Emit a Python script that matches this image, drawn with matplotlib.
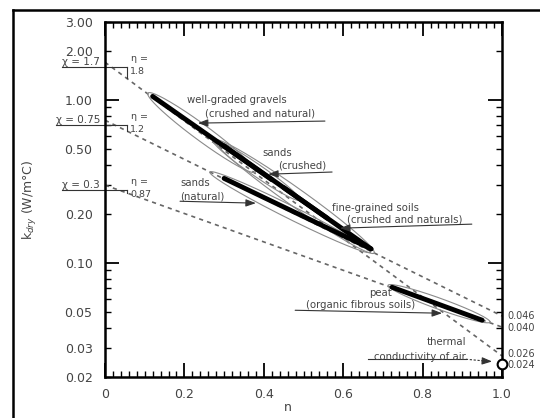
import numpy as np
import matplotlib.pyplot as plt
from matplotlib.lines import Line2D
from matplotlib.ticker import FixedLocator, FuncFormatter, MultipleLocator

plt.rcParams['font.family'] = ['DejaVu Sans']

# Cote & Konrad style lines: k_dry = chi * 10^(-eta * n)
chi_vals = [1.7, 0.75, 0.3]
eta_vals = [1.8, 1.2, 0.87]
k_air = 0.024
end_labels = ['0.046', '0.040', '0.026', '0.024']
end_values = [0.046, 0.040, 0.026, 0.024]
end_shift = [1.5, 0.0, 3.0, -0.5]  # points, to keep labels apart

# thick trend segments for each soil group
seg_n0 = [0.12, 0.30, 0.45, 0.30, 0.723]
seg_k0 = [1.05, 0.522, 0.29, 0.33, 0.071]
seg_n1 = [0.42, 0.56, 0.67, 0.67, 0.95]
seg_k1 = [0.324, 0.188, 0.122, 0.122, 0.0446]

# thin envelopes around the groups (tips + half width in px)
ell_n0 = [0.108, 0.272, 0.277, 0.264, 0.713]
ell_k0 = [1.10, 0.566, 0.566, 0.361, 0.073]
ell_n1 = [0.378, 0.491, 0.678, 0.668, 0.97]
ell_k1 = [0.361, 0.243, 0.115, 0.1164, 0.0434]
ell_hw = [8, 6, 9, 6.5, 5.5]

# annotation texts
note_text = ['well-graded gravels', '(crushed and natural)', 'sands', '(crushed)',
             'sands', '(natural)', 'fine-grained soils', '(crushed and naturals)',
             'peat', '(organic fibrous soils)', 'thermal', 'conductivity of air']
note_x = [0.207, 0.252, 0.433, 0.436, 0.189, 0.189, 0.572, 0.610, 0.695, 0.781, 0.909, 0.909]
note_y = [0.997, 0.83, 0.472, 0.398, 0.309, 0.257, 0.217, 0.185, 0.0653, 0.0551, 0.0326, 0.0264]
note_ha = ['left', 'left', 'center', 'left', 'left', 'left', 'left', 'left',
           'center', 'right', 'right', 'right']

# leader lines (start -> arrow tip)
lead_x0 = [0.554, 0.572, 0.189, 0.924, 0.479]
lead_y0 = [0.741, 0.361, 0.239, 0.173, 0.0513]
lead_x1 = [0.234, 0.411, 0.380, 0.592, 0.849]
lead_y1 = [0.720, 0.350, 0.2326, 0.1634, 0.0492]

ytick_major = [0.1, 1.0]
ytick_minor = [0.02, 0.03, 0.04, 0.05, 0.06, 0.07, 0.08, 0.09,
               0.2, 0.3, 0.4, 0.5, 0.6, 0.7, 0.8, 0.9, 2.0, 3.0]
ytick_labelled = [0.02, 0.03, 0.05, 0.2, 0.5, 2.0, 3.0]
xticks = [0, 0.2, 0.4, 0.6, 0.8, 1.0]
xtick_labels = ['0', '0.2', '0.4', '0.6', '0.8', '1.0']

txt = '#444444'
fig = plt.figure(figsize=(5.4, 4.18), dpi=100)
ax = fig.add_axes([105 / 540, 1 - 377 / 418, 397 / 540, 355 / 418])
ax.set_yscale('log')
ax.set_xlim(0, 1)
ax.set_ylim(0.02, 3)

# outer frame of the original figure (left + top)
fig.add_artist(Line2D([13 / 540, 13 / 540], [0, 1 - 10 / 418], transform=fig.transFigure, color='k', lw=1.8))
fig.add_artist(Line2D([13 / 540, 1], [1 - 10 / 418, 1 - 10 / 418], transform=fig.transFigure, color='k', lw=1.8))

# dashed model lines
n = np.linspace(0, 1, 100)
for chi, eta in zip(chi_vals, eta_vals):
    ax.plot(n, chi * 10 ** (-eta * n), color='#666666', lw=1.2, dashes=(2.5, 2.5))

# envelopes
def envelope(n0, k0, n1, k1, hw):
    p0, p1 = ax.transData.transform([(n0, k0), (n1, k1)])
    c = (p0 + p1) / 2
    d = p1 - p0
    a = np.hypot(*d) / 2
    u = d / (2 * a)
    v = np.array([-u[1], u[0]])
    t = np.linspace(0, 2 * np.pi, 200)
    pts = c + np.outer(a * np.cos(t), u) + np.outer(hw * np.sin(t), v)
    dat = ax.transData.inverted().transform(pts)
    ax.plot(dat[:, 0], dat[:, 1], color='#8a8a8a', lw=0.8)

for i in range(len(ell_n0)):
    envelope(ell_n0[i], ell_k0[i], ell_n1[i], ell_k1[i], ell_hw[i])

# thick segments
for i in range(len(seg_n0)):
    ax.plot([seg_n0[i], seg_n1[i]], [seg_k0[i], seg_k1[i]], color='black', lw=3.5,
            solid_capstyle='round')

# air conductivity point
ax.plot([1.0], [k_air], 'o', ms=7, mfc='white', mec='black', mew=1.5, clip_on=False, zorder=6)

# annotations
for s, x, y, ha in zip(note_text, note_x, note_y, note_ha):
    ax.text(x, y, s, ha=ha, va='center', fontsize=7.3, color=txt)

arrow = dict(arrowstyle='-|>,head_length=0.6,head_width=0.22', color='#333333', lw=0.8,
             shrinkA=0, shrinkB=0)
for x0, y0, x1, y1 in zip(lead_x0, lead_y0, lead_x1, lead_y1):
    ax.annotate('', xy=(x1, y1), xytext=(x0, y0), arrowprops=arrow)

# thermal conductivity of air leader (solid underline, dashed run to the point)
ax.plot([0.662, 0.909], [0.0257, 0.0257], color='#333333', lw=0.8)
ax.plot([0.909, 0.955], [0.0257, 0.0251], color='#333333', lw=0.8, dashes=(2, 1.5))
ax.annotate('', xy=(0.975, 0.0249), xytext=(0.95, 0.0251), arrowprops=arrow)

# end values on the right
ytr = ax.get_yaxis_transform()
for s, v, dy in zip(end_labels, end_values, end_shift):
    ax.annotate(s, xy=(1.0, v), xycoords=ytr, xytext=(4, dy), textcoords='offset points',
                ha='left', va='center', fontsize=7, color=txt, annotation_clip=False)

# chi labels with slope triangles
leg = 0.055
drop = 10 ** (-5 / 163)  # underline sits ~5 px under the label centre
chi_texts = []
for chi, eta in zip(chi_vals, eta_vals):
    t = ax.text(-0.012, chi, f'\u03c7 = {chi:g}', transform=ytr, ha='right', va='center',
                fontsize=7.5, color=txt)
    chi_texts.append(t)
    ax.plot([leg, leg], [chi * drop, chi * 10 ** (-eta * leg)], color='#333333', lw=0.8)
    ax.annotate('\u03b7 =', xy=(0.088, chi), xytext=(0, 2.5), textcoords='offset points',
                ha='center', va='center', fontsize=6.8, color=txt)
    ax.annotate(f'{eta:g}', xy=(0.064, chi), xytext=(0, -7), textcoords='offset points',
                ha='left', va='center', fontsize=6.8, color=txt)

fig.canvas.draw()
r = fig.canvas.get_renderer()
for t, chi in zip(chi_texts, chi_vals):
    bb = t.get_window_extent(r)
    left = ax.transAxes.inverted().transform((bb.x0, bb.y0))[0]
    ax.plot([left, leg], [chi * drop, chi * drop], transform=ytr, color='#333333', lw=0.8,
            clip_on=False)

# axes styling
for sp in ax.spines.values():
    sp.set_linewidth(1.8)
ax.set_xticks(xticks)
ax.set_xticklabels(xtick_labels)
ax.xaxis.set_minor_locator(MultipleLocator(0.02))
ax.yaxis.set_major_locator(FixedLocator(ytick_major))
ax.yaxis.set_major_formatter(FuncFormatter(lambda v, p: f'{v:.2f}'))
ax.yaxis.set_minor_locator(FixedLocator(ytick_minor))
ax.yaxis.set_minor_formatter(FuncFormatter(
    lambda v, p: f'{v:.2f}' if any(abs(v - w) < 1e-9 for w in ytick_labelled) else ''))
ax.tick_params(which='both', direction='in', top=True, right=True, labelsize=9,
               labelcolor=txt)
ax.tick_params(axis='y', which='both', pad=9)
ax.tick_params(axis='x', which='both', pad=8)
ax.tick_params(which='major', length=10, width=1.3)
ax.tick_params(which='minor', length=4, width=1.0)

ax.set_ylabel('k$_{dry}$ (W/m\u00b0C)', fontsize=9, color=txt)
ax.yaxis.set_label_coords(-0.165, 0.5)
ax.set_xlabel('n', fontsize=9, color=txt)
ax.xaxis.set_label_coords(0.46, -0.068)

fig.savefig('out.png', dpi=100)
